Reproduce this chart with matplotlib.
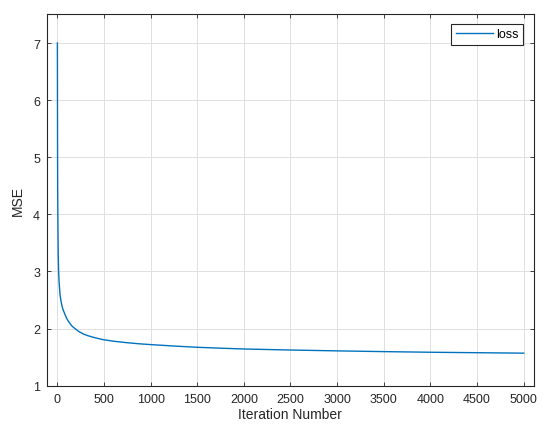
import matplotlib
matplotlib.use("Agg")
import matplotlib.pyplot as plt

plt.rcParams['font.family'] = ['Liberation Sans', 'DejaVu Sans']

iterations = [1, 2, 3, 4, 6, 8, 10, 14, 20, 29, 40, 50, 60, 72, 82, 100, 118, 136, 160, 190, 230, 279,
              330, 386, 440, 493, 600, 744, 870, 1000, 1250, 1500, 1750, 2000, 2500, 3000, 3500, 4000,
              4500, 5000]
mse = [7.0, 6.0, 5.0, 4.5, 4.0, 3.6, 3.3, 3.0, 2.8, 2.6, 2.48, 2.4, 2.34, 2.29, 2.25, 2.18, 2.13, 2.09,
       2.04, 2.0, 1.95, 1.906, 1.875, 1.848, 1.826, 1.806, 1.78, 1.754, 1.735, 1.72, 1.695, 1.673,
       1.657, 1.643, 1.625, 1.61, 1.597, 1.586, 1.578, 1.57]

xticks = [0, 500, 1000, 1500, 2000, 2500, 3000, 3500, 4000, 4500, 5000]
yticks = [1, 2, 3, 4, 5, 6, 7]

fig = plt.figure(figsize=(5.5, 4.35), dpi=100)
ax = fig.add_axes([0.0855, 0.111, 0.8845, 0.8534])
ax.plot(iterations, mse, color='#0072BD', linewidth=1.0, label='loss')

ax.set_xlim(-110, 5105)
ax.set_ylim(1, 7.5)
ax.set_xticks(xticks)
ax.set_yticks(yticks)
ax.grid(True, color='#e0e0e0', linewidth=0.7)
ax.set_axisbelow(True)
ax.tick_params(direction='in', length=3, width=0.6, top=True, right=True,
               labelsize=9, colors='#262626', pad=5)
for s in ax.spines.values():
    s.set_color('#262626')
    s.set_linewidth(0.8)
ax.set_xlabel('Iteration Number', fontsize=10, color='#262626', labelpad=2)
ax.set_ylabel('MSE', fontsize=10, color='#262626', labelpad=6)
leg = ax.legend(loc='upper right', fontsize=9, fancybox=False, framealpha=1,
                edgecolor='#262626', handlelength=2.95, handletextpad=0.3,
                borderpad=0.35, bbox_to_anchor=(0.992, 0.991))
leg.get_frame().set_linewidth(0.8)

fig.savefig('out.png', dpi=100)
